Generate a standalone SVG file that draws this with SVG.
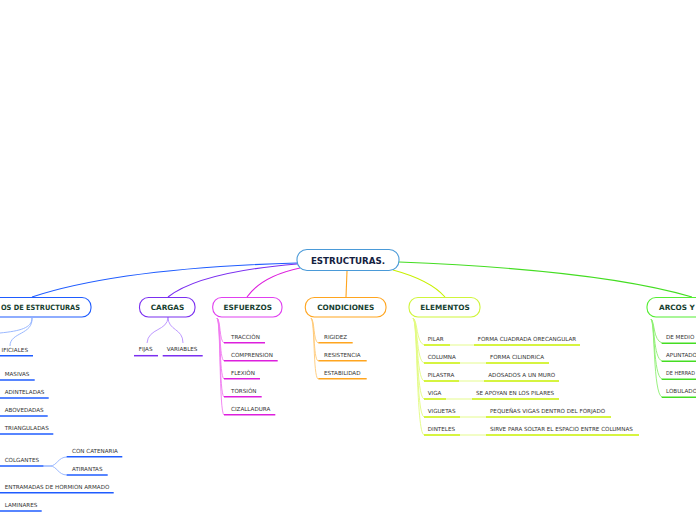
<svg xmlns="http://www.w3.org/2000/svg" width="696" height="520" viewBox="0 0 696 520">
<style>
text{font-family:"DejaVu Sans","Verdana",sans-serif}
.root{font-size:8.7px;font-weight:bold;fill:#14213f}
.main{font-size:7.3px;font-weight:bold;fill:#173f30}
.sub{font-size:5.6px;fill:#333}
.box{fill:#fff;stroke-width:1.1}
.c{fill:none;stroke-width:1.1}
.u{fill:none;stroke-width:1.5}
.t{fill:none;stroke-width:0.9}
.blue{stroke:#1f5cff}.lblue{stroke:#8fb0ff}
.pur{stroke:#7b2ff0}.lpur{stroke:#b58cff}
.mag{stroke:#dd1fdd}.lmag{stroke:#f07af0}
.org{stroke:#ffa51f}.lorg{stroke:#ffc977}
.yel{stroke:#c8f000}.lyel{stroke:#e2fb80}
.grn{stroke:#44dd22}.lgrn{stroke:#8cef70}
</style>
<g id="connectors">
<path class="c blue" d="M297,263 Q120,268 32,297"/>
<path class="c pur" d="M297,264 Q200,272 168,297"/>
<path class="c mag" d="M300,268 Q262,276 247,297"/>
<path class="c org" d="M347,271 L346,297"/>
<path class="c yel" d="M393,270 Q430,280 445,297"/>
<path class="c grn" d="M399,262 Q600,270 692,297"/>
<path class="t lblue" d="M32,318 C32,328 20,331 0,333"/>
<path class="t lblue" d="M32,318 C33,335 10,332 10,346"/>
<path class="t lblue" d="M43,466 L50,466 C57,466 58,457 67,457"/>
<path class="t lblue" d="M43,466 L50,466 C57,466 58,475 67,475"/>
<path class="t lpur" d="M168,317 C168,331 148,328 147,343"/>
<path class="t lpur" d="M168,317 C168,331 183,328 183,343"/>
<path class="t lmag" d="M217,318 C221,321 219,340 224,343"/>
<path class="t lmag" d="M217,318 C221,321 219,358 224,361"/>
<path class="t lmag" d="M217,318 C221,321 219,376 224,379"/>
<path class="t lmag" d="M217,318 C221,321 219,394 224,397"/>
<path class="t lmag" d="M217,318 C221,321 219,412 224,415"/>
<path class="t lorg" d="M311,318 C315,321 313,340 318,343"/>
<path class="t lorg" d="M311,318 C315,321 313,358 318,361"/>
<path class="t lorg" d="M311,318 C315,321 313,376 318,379"/>
<path class="t lyel" d="M413,318 C418,321 416,342 424,345"/>
<path class="t lyel" d="M413,318 C418,321 416,360 424,363"/>
<path class="t lyel" d="M413,318 C418,321 416,378 424,381"/>
<path class="t lyel" d="M413,318 C418,321 416,396 424,399"/>
<path class="t lyel" d="M413,318 C418,321 416,414 424,417"/>
<path class="t lyel" d="M413,318 C418,321 416,432 424,435"/>
<path class="t lyel" d="M450,345 L474,345"/>
<path class="t lyel" d="M460,363 L486,363"/>
<path class="t lyel" d="M459,381 L484,381"/>
<path class="t lyel" d="M446,399 L472,399"/>
<path class="t lyel" d="M460,417 L486,417"/>
<path class="t lyel" d="M460,435 L486,435"/>
<path class="t lgrn" d="M651,319 C655,322 653,340 662,343"/>
<path class="t lgrn" d="M651,319 C655,322 653,358 662,361"/>
<path class="t lgrn" d="M651,319 C655,322 653,376 662,379"/>
<path class="t lgrn" d="M651,319 C655,322 653,394 662,397"/>
</g>
<g id="root">
<rect class="box" x="297" y="249.5" width="102" height="21" rx="10" stroke="#4a9ad8"/>
<text class="root" x="348" y="264.2" text-anchor="middle">ESTRUCTURAS.</text>
</g>
<g id="tipos">
<rect class="box" x="-60" y="297.5" width="151" height="19.5" rx="9" stroke="#1f5cff"/>
<text class="main" x="1" y="309.6" textLength="79" lengthAdjust="spacingAndGlyphs">OS DE ESTRUCTURAS</text>
</g>
<g id="tipos-children">
<text class="sub" x="1.5" y="351.5" textLength="26.5" lengthAdjust="spacingAndGlyphs">IFICIALES</text><path class="u blue" d="M0,355.7 H33"/>
<text class="sub" x="4.7" y="376">MASIVAS</text><path class="u blue" d="M0,380 H34.7"/>
<text class="sub" x="4.7" y="394">ADINTELADAS</text><path class="u blue" d="M0,398 H48.7"/>
<text class="sub" x="4.7" y="412">ABOVEDADAS</text><path class="u blue" d="M0,416 H47.7"/>
<text class="sub" x="4.7" y="430">TRIANGULADAS</text><path class="u blue" d="M0,434 H53.3"/>
<text class="sub" x="4.7" y="462">COLGANTES</text><path class="u blue" d="M0,466 H43.3"/>
<text class="sub" x="72" y="452.7">CON CATENARIA</text><path class="u blue" d="M66.7,456.7 H122.3"/>
<text class="sub" x="72" y="471">ATIRANTAS</text><path class="u blue" d="M66.7,475 H107.7"/>
<text class="sub" x="4.7" y="489">ENTRAMADAS DE HORMION ARMADO</text><path class="u blue" d="M0,492.7 H113.7"/>
<text class="sub" x="4.7" y="507">LAMINARES</text><path class="u blue" d="M0,511 H41.7"/>
</g>
<g id="cargas">
<rect class="box" x="139.5" y="297.5" width="55.5" height="19.5" rx="9" stroke="#7b2ff0"/>
<text class="main" x="167.5" y="309.6" text-anchor="middle">CARGAS</text>
<text class="sub" x="138.7" y="350.7">FIJAS</text><path class="u pur" d="M134,355.7 H158"/>
<text class="sub" x="166.7" y="350.7">VARIABLES</text><path class="u pur" d="M162.7,355.7 H202.7"/>
</g>
<g id="esfuerzos">
<rect class="box" x="212.7" y="297.5" width="69.3" height="19.5" rx="9" stroke="#e040f0"/>
<text class="main" x="247.7" y="309.6" text-anchor="middle">ESFUERZOS</text>
<text class="sub" x="231" y="339">TRACCIÒN</text><path class="u mag" d="M224,342.7 H265"/>
<text class="sub" x="231" y="357">COMPRENSION</text><path class="u mag" d="M224,360.7 H277.7"/>
<text class="sub" x="231" y="375">FLEXIÒN</text><path class="u mag" d="M224,378.7 H260"/>
<text class="sub" x="231" y="393">TORSIÓN</text><path class="u mag" d="M224,396.7 H261.7"/>
<text class="sub" x="231" y="411">CIZALLADURA</text><path class="u mag" d="M224,414.7 H275.3"/>
</g>
<g id="condiciones">
<rect class="box" x="305.3" y="297.5" width="80.7" height="19.5" rx="9" stroke="#ffa51f"/>
<text class="main" x="345.7" y="309.6" text-anchor="middle">CONDICIONES</text>
<text class="sub" x="324" y="339">RIGIDEZ</text><path class="u org" d="M318.3,342.7 H352.7"/>
<text class="sub" x="324" y="357">RESISTENCIA</text><path class="u org" d="M318.3,360.7 H366.7"/>
<text class="sub" x="324" y="375">ESTABILIDAD</text><path class="u org" d="M318.3,378.7 H366.7"/>
</g>
<g id="elementos">
<rect class="box" x="409" y="297.5" width="71" height="19.5" rx="9" stroke="#d0f53a"/>
<text class="main" x="445" y="309.6" text-anchor="middle">ELEMENTOS</text>
<text class="sub" x="427.7" y="341">PILAR</text><path class="u yel" d="M424,345 H450"/>
<text class="sub" x="477.7" y="341">FORMA CUADRADA ORECANGULAR</text><path class="u yel" d="M474,345 H580"/>
<text class="sub" x="427.7" y="359">COLUMNA</text><path class="u yel" d="M424,363 H460"/>
<text class="sub" x="490" y="359">FORMA CILINDRICA</text><path class="u yel" d="M486,363 H549"/>
<text class="sub" x="427.7" y="377">PILASTRA</text><path class="u yel" d="M424,381 H459"/>
<text class="sub" x="488.3" y="377">ADOSADOS A UN MURO</text><path class="u yel" d="M484,381 H559"/>
<text class="sub" x="427.7" y="395">VIGA</text><path class="u yel" d="M424,399 H446"/>
<text class="sub" x="476" y="395">SE APOYAN EN LOS PILARES</text><path class="u yel" d="M472,399 H559"/>
<text class="sub" x="427.7" y="413">VIGUETAS</text><path class="u yel" d="M424,417 H460"/>
<text class="sub" x="490" y="413">PEQUEÑAS VIGAS DENTRO DEL FORJADO</text><path class="u yel" d="M486,417 H611"/>
<text class="sub" x="427.7" y="431">DINTELES</text><path class="u yel" d="M424,435 H460"/>
<text class="sub" x="490" y="431">SIRVE PARA SOLTAR EL ESPACIO ENTRE COLUMNAS</text><path class="u yel" d="M486,435 H639"/>
</g>
<g id="arcos">
<rect class="box" x="647" y="297.5" width="80" height="19.5" rx="9" stroke="#55ee33"/>
<text class="main" x="659" y="309.6">ARCOS Y</text>
<text class="sub" x="666" y="339">DE MEDIO</text><path class="u grn" d="M661.7,343.3 H700"/>
<text class="sub" x="666" y="357">APUNTADO</text><path class="u grn" d="M661.7,361.3 H700"/>
<text class="sub" x="666" y="375" textLength="29" lengthAdjust="spacingAndGlyphs">DE HERRAD</text><path class="u grn" d="M661.7,379.3 H700"/>
<text class="sub" x="666" y="393">LOBULADO</text><path class="u grn" d="M661.7,397.3 H700"/>
</g>
</svg>
